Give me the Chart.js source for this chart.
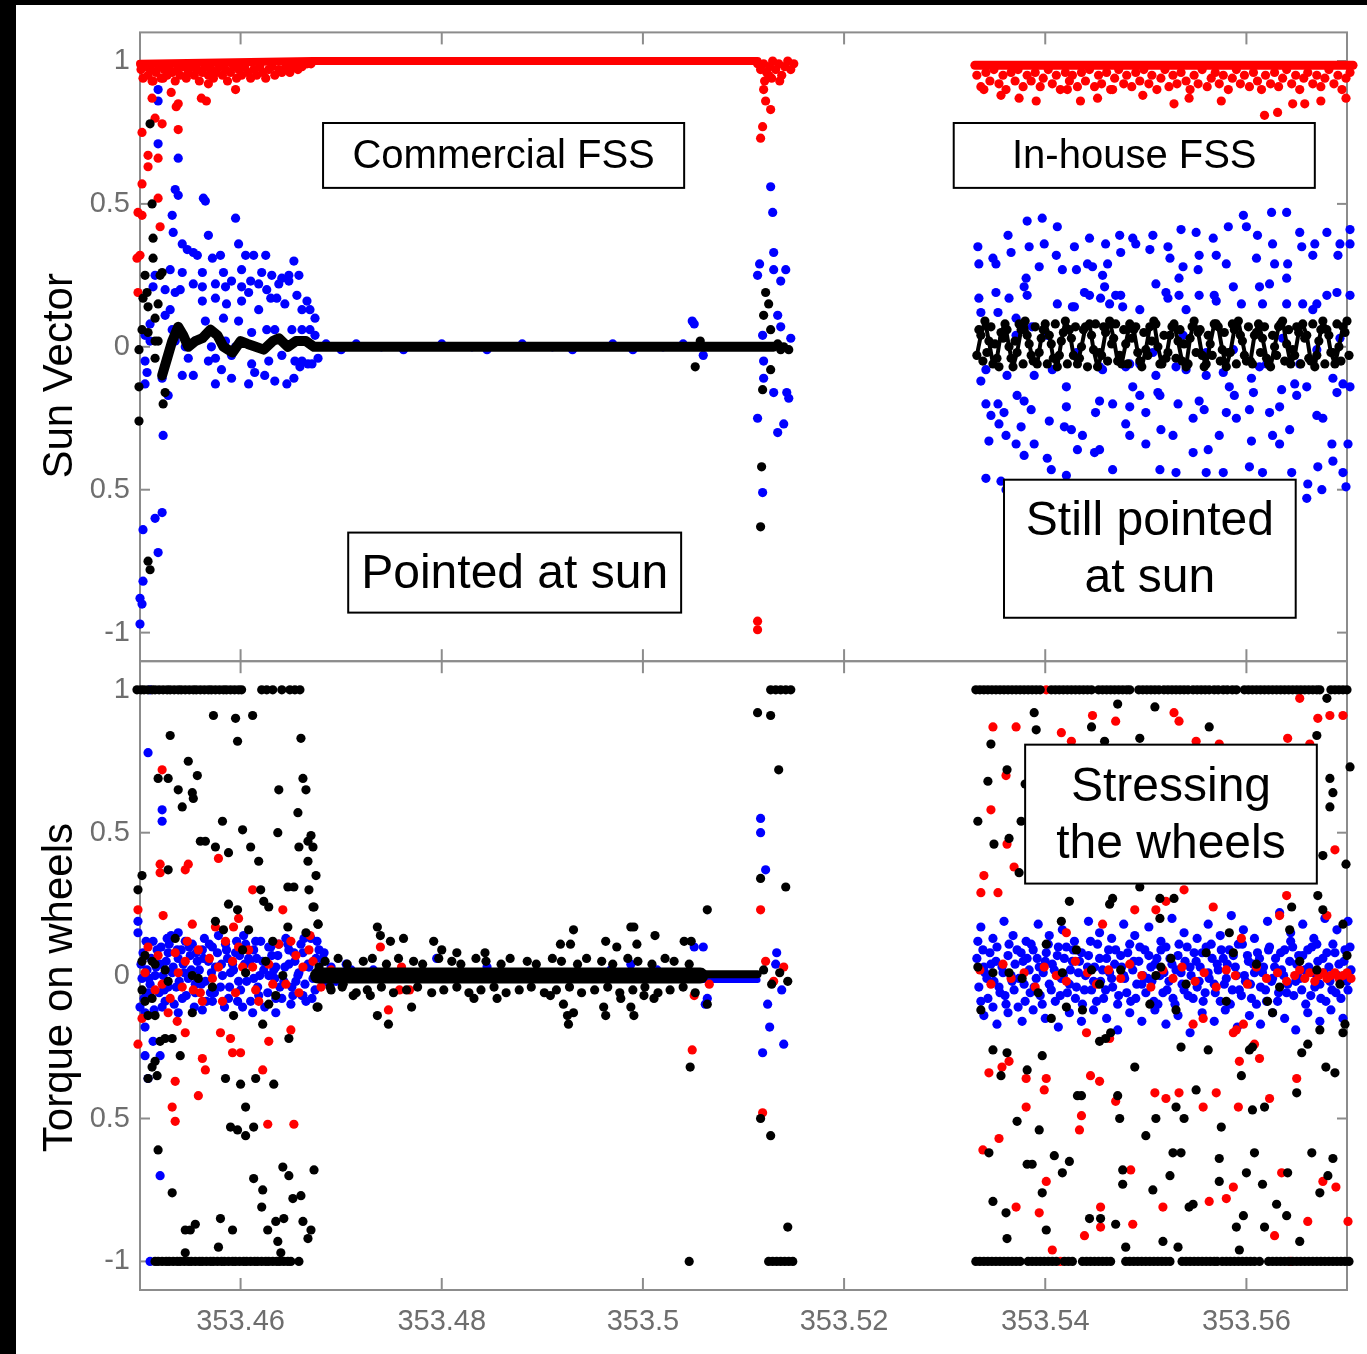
<!DOCTYPE html>
<html>
<head>
<meta charset="utf-8">
<title>Sun vector and wheel torque</title>
<script src="https://cdn.jsdelivr.net/npm/chart.js@4.4.1/dist/chart.umd.min.js"></script>
<style>
  html, body { margin: 0; padding: 0; background: #000; }
  #wrap { position: absolute; left: 16px; top: 5px; width: 1351px; height: 1349px; background: #fff; }
  canvas { display: block; }
</style>
</head>
<body>
<div id="wrap"><canvas id="chart" width="1351" height="1349"></canvas></div>
<script>
// time axis: day of year; points are stored as [t, v] where
// t = offset from T0 in units of 1e-4 day and v = value in hundredths
const T0 = 353.45;
const xTicks = [353.46, 353.48, 353.5, 353.52, 353.54, 353.56];
const xTickLabels = ['353.46', '353.48', '353.5', '353.52', '353.54', '353.56'];
const yTicks = [-1, -0.5, 0, 0.5, 1];
const yTickLabels = ['-1', '0.5', '0', '0.5', '1'];

// ---------- sun vector panel ----------
const sunRed = [
  [1,97],[3,94],[6,98],[8,95],[11,97],[13,93],[16,96],[19,98],[21,94],[24,97],[27,95],[29,98],[32,96],[35,93],[37,97],[40,95],
  [43,98],[46,94],[48,96],[51,98],[54,95],[57,97],[59,93],[62,96],[65,98],[68,95],[71,97],[73,94],[76,96],[79,98],[82,95],[85,97],
  [87,93],[90,96],[93,98],[96,94],[98,97],[101,95],[104,98],[107,96],[110,94],[113,97],[116,95],[119,98],[122,96],[125,94],[128,97],
  [131,98],[134,95],[138,97],[141,96],[145,98],[149,96],[153,98],[157,97],[161,98],[166,99],[170,99],
  [12,93],[23,94],[31,89],[38,85],[36,84],[61,87],[66,86],[68,92],[95,90],[12,87],[2,75],[15,80],[22,78],[38,76],[8,67],[18,66],
  [8,63],[2,57],[18,52],[-2,47],[2,46],[20,42],[0,32],[-3,31],[-2,19],
  [614,99],[617,97],[620,99],[623,96],[626,98],[629,100],[632,97],[635,99],[638,95],[641,98],[644,100],[647,97],[650,99],
  [621,93],[628,94],[636,93],[620,90],[622,86],[625,95],[617,73],[619,77],[627,83],[614,-96],[614,-99],
  [832,95],[836,91],[841,96],[845,93],[849,97],[854,92],[858,95],[861,90],[866,96],[870,93],[873,97],[878,91],[882,95],[886,93],
  [890,96],[895,91],[898,94],[903,97],[907,92],[911,95],[915,90],[920,96],[924,93],[927,95],[932,91],[936,96],[940,93],[944,97],
  [949,91],[953,95],[956,92],[961,96],[965,90],[969,94],[973,97],[978,92],[981,95],[986,91],[990,96],[994,93],[998,97],[1003,92],
  [1006,95],[1011,90],[1015,94],[1019,97],[1023,91],[1027,95],[1031,92],[1035,96],[1040,93],[1044,90],[1048,95],[1052,92],[1056,97],
  [1061,91],[1065,94],[1069,96],[1073,92],[1077,95],[1082,90],[1086,94],[1090,97],[1094,92],[1098,95],[1103,91],[1107,96],[1111,93],
  [1115,90],[1119,95],[1124,92],[1128,96],[1132,91],[1136,94],[1140,97],[1145,92],[1149,95],[1153,90],[1157,94],[1161,96],[1166,92],
  [1170,95],[1174,91],[1178,94],[1182,97],[1187,92],[1191,95],[1195,90],[1199,94],[1203,96],[1206,92],
  [839,90],[856,88],[874,87],[891,86],[922,90],[935,86],[952,87],[967,90],[997,88],[1028,85],[1043,87],[1075,86],[1118,81],
  [1131,82],[1146,85],[1158,85],[1174,86],[1199,87]
];
// saturated red trace (drawn as a thick line through its samples)
const sunRedTrace = [[0,99],[172,100],[614,100]];
const sunRedTraceRight = [[830,98.5],[1206,98.5]];

const sunBlue = [
  [18,90],[18,86],[18,71],[38,66],[35,55],[38,53],[63,52],[65,51],[32,46],[33,40],[68,39],[95,45],[42,36],[47,34],[53,33],[57,32],
  [72,31],[80,32],[98,36],[105,32],[113,32],[125,32],[153,30],[30,27],[42,26],[62,26],[83,26],[101,27],[121,26],[131,25],[141,24],
  [148,25],[158,25],[15,25],[13,21],[25,20],[35,19],[40,20],[53,22],[62,21],[75,22],[85,21],[91,23],[101,21],[110,23],[118,22],
  [126,20],[138,22],[148,23],[156,18],[166,16],[62,16],[75,17],[86,15],[101,16],[108,19],[118,13],[130,17],[136,17],[144,15],
  [161,13],[169,13],[174,10],[30,13],[25,11],[10,8],[65,9],[83,10],[98,9],[111,5],[126,6],[134,6],[151,6],[161,6],[169,6],[174,4],
  [5,4],[10,2],[32,6],[35,2],[45,0],[55,2],[71,0],[85,2],[95,0],[48,-4],[68,-5],[75,-4],[91,-3],[111,-6],[128,-5],[141,-3],[154,-5],
  [161,-5],[171,-6],[177,-4],[5,-5],[7,-9],[5,-13],[42,-10],[53,-10],[75,-13],[81,-8],[91,-11],[108,-13],[114,-9],[124,-10],
  [134,-12],[146,-13],[153,-11],[159,-7],[167,-6],[22,-11],[28,-17],[23,-31],[22,-58],[15,-60],[3,-64],[18,-72],[3,-82],[0,-88],
  [2,-90],[0,-97],
  [185,1],[200,-1],[215,1],[240,0],[262,-1],[300,1],[330,0],[345,-1],[380,1],[410,0],[430,-1],[470,1],[490,-1],[520,0],[540,1],
  [549,9],[551,8],[560,-3],
  [616,29],[630,33],[614,25],[630,27],[642,27],[637,23],[634,11],[637,7],[619,4],[647,3],[620,-5],[620,-11],[630,-16],[643,-16],
  [645,-18],[614,-25],[640,-27],[634,-30],[627,56],[629,47],[619,-51],
  [833,35],[834,29],[848,31],[851,29],[863,39],[866,33],[882,44],[884,35],[897,45],[899,36],[912,42],[911,32],[894,28],[917,27],
  [929,35],[931,27],[944,38],[942,29],[947,28],[960,36],[962,29],[957,25],[974,39],[975,33],[987,38],[990,36],[1004,34],[1007,39],
  [1022,35],[1024,31],[1037,28],[1033,24],[1052,27],[1053,32],[1050,40],[1035,41],[1067,38],[1070,32],[1080,29],[1082,42],[1097,46],
  [1100,42],[1110,31],[1111,39],[1125,47],[1140,47],[1126,36],[1128,29],[1141,29],[1140,24],[1153,40],[1155,35],[1168,36],[1166,32],
  [1180,40],[1191,32],[1193,36],[1203,41],[1203,36],
  [834,17],[836,12],[851,19],[853,12],[864,17],[871,10],[879,21],[881,24],[882,18],[912,15],[927,14],[929,14],[939,19],[944,18],
  [955,17],[959,21],[964,15],[970,18],[975,18],[977,14],[994,13],[1010,22],[1020,19],[1022,17],[1033,18],[1040,13],[1053,18],
  [1068,18],[1070,16],[1087,21],[1095,15],[1113,21],[1123,22],[1116,15],[1140,15],[1156,15],[1166,13],[1170,15],[1180,18],[1190,19],
  [1203,18],
  [871,4],[887,7],[902,4],[931,-2],[954,-7],[980,-7],[1007,-2],[1037,4],[1060,-2],[1087,-1],[1113,-7],[1136,3],[1170,-1],[1193,3],
  [841,-8],[862,-10],[889,-10],[907,-8],[957,-8],[984,-6],[994,-6],[1010,-10],[1030,-7],[1040,-8],[1060,-10],[1077,-9],[1105,-11],
  [1120,-6],[1153,-6],[1186,-11],
  [836,-12],[841,-20],[853,-20],[846,-24],[854,-27],[859,-23],[872,-17],[879,-19],[886,-22],[876,-28],[861,-31],[844,-33],[871,-34],
  [889,-34],[879,-38],[902,-39],[904,-26],[921,-14],[921,-21],[919,-28],[926,-29],[937,-31],[932,-36],[949,-37],[954,-36],[950,-23],
  [954,-19],[967,-20],[984,-21],[980,-27],[984,-31],[987,-14],[994,-17],[1000,-23],[1014,-17],[1012,-16],[1000,-34],[1015,-29],
  [1027,-31],[1032,-20],[1047,-25],[1053,-19],[1058,-22],[1047,-37],[1062,-36],[1073,-31],[1083,-14],[1088,-17],[1080,-23],[1090,-25],
  [1103,-22],[1107,-16],[1105,-33],[1123,-23],[1126,-31],[1133,-34],[1143,-29],[1133,-21],[1135,-15],[1150,-17],[1148,-13],[1160,-14],
  [1170,-24],[1176,-25],[1185,-34],[1190,-16],[1196,-13],[1201,-34],[1203,-14],
  [841,-46],[856,-47],[906,-43],[921,-45],[967,-43],[1014,-43],[1030,-44],[1060,-44],[1077,-44],[1103,-42],[1116,-44],[1145,-44],
  [1171,-42],[1186,-40],[1196,-44],[1199,-49],[1161,-48],[1175,-50],[1160,-53],[921,-49],[874,-48],[861,-50]
];

const sunBlack = [
  [10,78],[12,50],[13,38],[13,31],[5,25],[20,25],[22,26],[7,19],[3,17],[8,14],[18,15],[15,10],[2,6],[8,5],[-1,-1],[15,2],[18,2],
  [15,-4],[-1,-14],[25,-16],[23,-20],[-1,-26],[8,-75],[10,-78],
  [552,-7],[557,2],
  [622,19],[625,15],[620,11],[627,6],[634,1],[640,0],[645,-1],[637,-1],[627,-8],[619,-15],[618,-42],[617,-63]
];
// wavy settling trace after acquisition, then the steady pointing trace
const sunBlackTrace = [
  [22,-10],[27,-4],[32,2],[38,7],[43,4],[48,0],[55,2],[62,3],[70,6],[77,4],[83,0],[92,-2],[100,2],[107,1],[115,0],[123,-1],
  [132,2],[138,3],[147,0],[155,2],[165,2],[173,0],[182,0],[630,0]
];
// in-house sensor: oscillating black component
const sunBlackRight = [
  [832,-3],[836,4],[840,9],[844,2],[848,-6],[852,-4],[856,5],[860,8],[864,0],[868,-7],
  [872,-2],[876,6],[880,9],[884,1],[888,-5],[892,-6],[896,3],[900,8],[904,4],[908,-4],
  [912,-7],[916,2],[920,9],[924,6],[928,-3],[932,-6],[936,0],[940,7],[944,8],[948,-1],
  [952,-7],[956,-3],[960,5],[964,9],[968,3],[972,-5],[976,-6],[980,1],[984,8],[988,6],
  [992,-2],[996,-7],[1000,-1],[1004,7],[1008,9],[1012,0],[1016,-6],[1020,-4],[1024,4],[1028,8],
  [1032,2],[1036,-5],[1040,-7],[1044,3],[1048,9],[1052,5],[1056,-3],[1060,-6],[1064,1],[1068,8],
  [1072,7],[1076,-1],[1080,-7],[1084,-2],[1088,6],[1092,9],[1096,2],[1100,-5],[1104,-5],[1108,4],
  [1112,8],[1116,3],[1120,-4],[1124,-7],[1128,0],[1132,7],[1136,9],[1140,1],[1144,-6],[1148,-3],
  [1152,5],[1156,8],[1160,4],[1164,-5],[1168,-7],[1172,2],[1176,9],[1180,6],[1184,-2],[1188,-6],
  [1192,0],[1196,7],[1200,9],[1204,-1]
];
const sunBlackRight2 = [
  [834,6],[838,-5],[842,-2],[846,7],[850,1],[854,-7],[858,3],[862,6],[866,-4],[870,2],
  [874,8],[878,-6],[882,4],[886,-3],[890,7],[894,-2],[898,6],[902,-6],[906,1],[910,8],
  [914,-3],[918,5],[922,-6],[926,3],[930,7],[934,-4],[938,6],[942,-7],[946,4],[950,8],
  [954,-2],[958,7],[962,-5],[966,1],[970,8],[974,-3],[978,6],[982,-6],[986,3],[990,7],
  [994,-5],[998,5],[1002,-3],[1006,2],[1010,8],[1014,-6],[1018,4],[1022,-2],[1026,7],[1030,-4],
  [1034,6],[1038,1],[1042,-6],[1046,7],[1050,-2],[1054,6],[1058,-7],[1062,4],[1066,-3],[1070,8],
  [1074,-5],[1078,5],[1082,-2],[1086,8],[1090,-6],[1094,4],[1098,-3],[1102,7],[1106,-6],[1110,5],
  [1114,-2],[1118,7],[1122,-6],[1126,4],[1130,-3],[1134,8],[1138,-5],[1142,6],[1146,-1],[1150,7],
  [1154,-6],[1158,3],[1162,-4],[1166,8],[1170,-3],[1174,6],[1178,-6],[1182,4],[1186,-2],[1190,8],
  [1194,-5],[1198,5],[1202,-3],[1206,6]
];

// ---------- wheel torque panel ----------
const trqHighT = [
  -3,1,4,8,12,15,19,23,27,30,34,38,41,45,49,53,56,60,64,68,71,75,79,83,86,90,94,98,101,121,126,132,141,149,154,159,
  627,632,637,642,647,
  831,835,839,843,847,851,855,859,863,867,871,875,879,883,887,891,895,906,910,914,918,922,926,930,934,938,942,946,
  953,957,961,965,969,973,977,981,984,993,997,1001,1005,1009,1013,1018,1022,1026,1030,1034,1038,1042,1047,1051,1055,
  1059,1063,1068,1072,1077,1081,1086,1090,1098,1102,1106,1110,1114,1118,1122,1126,1130,1134,1138,1142,1146,1150,1154,
  1158,1162,1166,1170,1173,1184,1188,1192,1196,1200,1204
];
const trqLowT = [
  15,18,22,26,29,33,37,40,44,48,51,55,59,62,66,70,73,77,81,84,88,92,95,99,103,106,110,114,117,121,125,128,132,136,139,
  143,147,150,158,
  546,625,629,633,637,641,645,649,
  831,835,839,843,847,851,855,859,863,867,871,875,883,887,891,895,899,903,907,911,919,923,927,937,941,945,949,953,957,961,965,
  980,984,988,992,996,1000,1004,1008,1012,1016,1020,1024,1036,1040,1044,1048,1052,1056,1060,1064,1068,1071,1076,1080,1084,1088,
  1092,1096,1100,1104,1108,1113,1122,1126,1130,1134,1138,1142,1146,1150,1154,1158,1162,1166,1170,1174,1178,1182,1186,1190,
  1194,1198,1202,1205
];

const trqBlack = [
  [73,91],[95,90],[112,91],[30,84],[97,82],[160,83],[48,75],[18,69],[28,69],[57,70],[38,65],[52,64],[53,62],[42,59],[138,65],
  [162,69],[165,65],[157,57],[82,54],[102,51],[137,50],[170,49],[167,47],[172,45],[60,47],[65,47],[75,45],[88,43],[110,45],
  [158,45],[167,40],[118,40],[2,35],[175,35],[28,37],[-2,30],[120,30],[147,31],[153,31],[168,30],[88,25],[97,23],[123,26],
  [128,24],[173,24],[75,19],[83,16],[177,18],[147,17],[165,15],[108,16],[35,13],[132,12],[5,7],[15,4],[102,9],[28,-2],[58,-1],
  [72,-4],[52,-13],[93,-14],[122,-17],[128,-10],[148,-22],[177,-11],[5,-9],[8,-14],[15,-14],[20,-23],[25,-22],[32,-22],[15,-30],
  [12,-32],[8,-36],[17,-35],[40,-28],[85,-36],[100,-38],[115,-36],[133,-38],[105,-46],[90,-53],[97,-54],[105,-56],[113,-53],
  [18,-61],[32,-76],[113,-71],[122,-75],[142,-67],[148,-70],[152,-78],[160,-77],[173,-68],[121,-81],[45,-89],[50,-89],[55,-87],
  [80,-85],[92,-89],[127,-89],[135,-86],[143,-85],[162,-86],[170,-89],[167,-92],[137,-93],[78,-95],[45,-97],[140,-97],
  [2,5],[12,5],[25,2],[2,-5],[12,-8],[52,0],[105,1],[125,5],[142,0],[135,-7],[178,3],[182,0],
  [172,24],[177,18],[176,-11],[236,17],[239,14],[249,12],[262,13],[292,12],[300,9],[315,8],[343,8],[431,16],[418,11],[428,11],
  [463,12],[488,17],[491,17],[512,14],[474,10],[494,11],[541,12],[548,12],[564,23],[229,-7],[236,-14],[247,-17],[270,-11],
  [212,-7],[332,-8],[355,-8],[408,-7],[421,-10],[425,-14],[431,-13],[426,-17],[461,-11],[463,-14],[478,-8],[488,-11],[491,-14],
  [501,-7],[511,-8],[547,-32],[564,-10],[189,-4],[202,-3],
  [184,5],[197,6],[206,4],[222,5],[231,6],[245,4],[257,6],[272,5],[281,4],[297,6],[310,5],[319,4],[334,6],[344,5],[359,4],
  [368,6],[385,5],[394,4],[410,6],[419,5],[435,4],[444,6],[459,5],[470,4],[485,6],[495,5],[509,4],[522,6],[531,5],[546,4],
  [190,-5],[201,-4],[215,-6],[226,-5],[240,-4],[252,-6],[265,-5],[276,-4],[290,-6],[302,-5],[315,-4],[327,-6],[339,-5],
  [352,-4],[364,-6],[377,-5],[389,-4],[402,-6],[414,-5],[427,-4],[439,-6],[452,-5],[465,-4],[477,-6],[490,-5],[502,-4],
  [515,-6],[527,-5],[540,-4],[552,-6],
  [614,92],[627,91],[635,72],[617,34],[642,31],[617,-50],[627,-56],[644,-88],[620,2],[628,-3],[636,1],[644,-2],
  [889,92],[972,95],[1009,94],[891,86],[946,87],[846,81],[959,82],[994,83],[1063,87],[1170,84],[1180,97],[862,72],[843,68],
  [880,67],[1183,69],[1186,64],[1183,59],[1203,73],[833,54],[849,46],[864,48],[874,36],[876,54],[1176,42],[1199,39],[994,31],
  [924,26],[964,25],[967,27],[1014,20],[1028,27],[1014,27],[1171,28],[1176,23],[1145,24],[916,19],[1143,16],[1196,18],[901,11],
  [931,9],[975,2],[1010,0],[1083,15],[1087,8],[1153,5],[833,3],[848,1],[864,1],[877,-1],[917,1],[946,2],[954,-3],[1133,-4],
  [836,-12],[921,-11],[937,-12],[1004,-10],[1030,-12],[1080,-9],[1121,-9],[1126,-13],[1193,-3],[906,-15],[1198,-17],[1196,-20],
  [954,-23],[960,-22],[965,-20],[1173,-19],[1106,-25],[1103,-26],[1161,-24],[1155,-27],[1035,-25],[1062,-26],[848,-26],[862,-27],
  [897,-28],[882,-33],[856,-35],[989,-32],[1095,-35],[1179,-32],[1188,-34],[1150,-41],[932,-42],[936,-42],[972,-42],[1030,-46],
  [1050,-40],[1106,-47],[1118,-46],[872,-51],[894,-54],[974,-50],[1010,-50],[1038,-50],[1075,-53],[1000,-56],[1027,-62],[1035,-62],
  [1073,-64],[1108,-62],[1165,-62],[1186,-64],[844,-62],[882,-66],[887,-66],[909,-63],[924,-65],[917,-69],[977,-68],[1024,-70],
  [1100,-69],[1116,-73],[1141,-69],[1173,-76],[1181,-70],[897,-76],[977,-73],[1007,-75],[1073,-72],[848,-79],[861,-83],[944,-85],
  [955,-85],[970,-87],[1047,-80],[1043,-81],[1090,-88],[1097,-84],[1118,-88],[1130,-80],[1140,-84],[862,-92],[901,-89],[1017,-93],
  [980,-95],[1032,-95],[1093,-96],[1153,-93],
  [1025,6],[1040,-3],[1060,8],[1110,4],[1170,2],[1200,7],[893,-6],[1015,3]
];
// dense reaction-wheel trace while the commercial sensor is tracking
const trqBlackTrace = [[177,0],[557,0]];
const trqBlackTraceEnd = [[557,0.5],[614,0.5]];

const trqRed = [
  [22,72],[20,39],[20,36],[48,39],[45,37],[78,41],[112,30],[142,23],[23,21],[52,18],[75,17],[93,17],[98,20],[-2,23],[2,-15],
  [-2,-24],[28,-13],[37,-16],[45,-20],[80,-20],[90,-22],[92,-27],[100,-27],[128,-23],[150,-19],[62,-29],[65,-33],[35,-37],
  [58,-42],[32,-46],[35,-51],[122,-33],[127,-52],[153,-52],
  [8,10],[35,8],[45,5],[58,9],[38,1],[53,-5],[72,-1],[85,12],[92,5],[102,3],[108,9],[115,-5],[128,4],[138,11],[145,-3],[155,7],
  [162,3],[168,9],[15,-5],[22,-3],[42,-4],[95,-6],[78,3],[62,-9],
  [5,1],[18,7],[30,-8],[47,12],[60,-6],[69,6],[82,-9],[98,10],[112,3],[118,-9],[132,-3],[150,12],[158,-6],[172,5],[180,-4],
  [169,14],[258,-5],[268,-5],[247,-12],[239,10],[549,-26],[551,-7],[566,-3],[190,2],[260,3],[252,1],
  [617,23],[619,-48],[622,5],[630,-2],[640,3],
  [848,87],[871,87],[861,70],[947,91],[970,89],[1028,92],[1033,89],[1153,97],[1171,90],[1183,91],[1196,91],[916,85],[926,82],
  [1050,82],[1073,81],[1141,83],[1163,81],[846,58],[862,46],[869,38],[839,35],[836,29],[853,29],[1188,44],[1038,30],[1067,24],
  [989,23],[1010,23],[1020,26],[1140,28],[1180,21],[957,18],[921,15],[1095,13],[1133,21],[941,-20],[964,-22],[1047,-17],
  [1057,-15],[1087,-20],[1090,-19],[1097,-17],[1108,-24],[864,-30],[857,-32],[844,-34],[881,-36],[901,-36],[945,-35],[954,-37],
  [1093,-30],[1113,-29],[1150,-36],[1009,-41],[1020,-43],[1033,-41],[1057,-46],[1070,-41],[1092,-46],[1123,-43],[881,-46],
  [899,-40],[936,-49],[934,-54],[970,-44],[838,-61],[854,-57],[901,-72],[985,-68],[1087,-74],[1080,-78],[1135,-69],[1176,-72],
  [1189,-74],[871,-81],[894,-83],[955,-81],[1017,-81],[1063,-79],[1161,-86],[1201,-86],[955,-88],[987,-87],[939,-91],[1128,-91],
  [907,-96],[901,100],[915,-100],[1144,-100],
  [835,2],[846,-3],[858,4],[866,-1],[879,1],[890,-4],[899,3],[911,0],[921,-2],[930,5],[942,1],[951,-3],[963,2],[975,-1],[984,4],
  [996,0],[1005,-4],[1017,2],[1027,-1],[1036,3],[1049,-2],[1058,1],[1070,-4],[1080,2],[1089,0],[1101,-3],[1110,3],[1120,-1],
  [1131,1],[1140,-2],[1148,0],[1153,2],[1158,-1],[1163,1],[1168,-2],[1172,0],[1176,1],[1180,-1],[1184,0],[1188,1],[1192,-1],
  [1196,0],[1200,1],[1204,-1]
];

const trqBlue = [
  [8,78],[22,58],[22,54],[-2,19],[-2,15],[5,-18],[13,-23],[20,-28],[5,-28],[8,-36],[20,-70],[10,-100],[10,100],
  [13,12],[27,13],[38,15],[45,12],[52,11],[62,9],[72,10],[85,11],[95,8],[105,11],[115,12],[128,10],[138,11],[148,9],[162,8],
  [175,6],[182,5],[28,8],[38,6],[57,5],[75,3],[92,4],[108,6],[122,5],[135,3],[148,4],[158,1],[168,3],[15,0],[32,1],[48,-1],
  [65,-2],[82,0],[98,-2],[113,-1],[128,0],[143,-2],[155,-2],[172,-1],[2,-1],[8,-6],[25,-9],[42,-8],[55,-6],[72,-9],[88,-8],
  [102,-11],[118,-7],[135,-8],[152,-7],[165,-9],[22,-11],[38,-13],[62,-12],[112,-13],[135,-13],[162,-7],[0,-11],[5,-13],
  [3,8],[7,2],[10,-3],[17,9],[20,4],[24,-5],[29,11],[33,3],[36,-4],[41,9],[44,1],[50,7],[55,-3],[59,2],[64,13],[68,5],[70,-6],
  [77,8],[80,-4],[87,6],[90,1],[96,12],[100,-5],[104,4],[110,-9],[116,6],[119,0],[124,-11],[131,7],[133,2],[139,-4],[145,13],
  [150,-10],[154,5],[160,11],[164,-3],[170,13],[174,-5],[178,9],[184,-2],
  [1,4],[4,-8],[6,12],[9,-1],[11,6],[14,-12],[16,3],[19,-6],[21,10],[23,0],[26,5],[28,-4],[31,14],[34,-10],[37,9],[39,-2],
  [43,4],[46,-7],[49,10],[51,2],[54,-11],[56,8],[61,-3],[63,6],[66,-9],[69,11],[71,1],[74,-6],[78,14],[81,4],[84,-11],[86,9],
  [89,-4],[93,2],[97,-9],[99,7],[103,14],[106,-2],[109,5],[113,9],[117,-4],[120,12],[123,2],[127,-6],[130,10],[134,-1],[137,7],
  [141,-8],[144,3],[147,11],[151,-4],[153,8],[157,0],[161,-7],[163,13],[167,4],[171,-8],[176,12],[179,0],[183,8],
  [182,6],[232,2],[245,-1],[255,0],[295,6],[345,3],[368,0],[421,1],[435,-1],[451,0],[468,2],[488,4],[498,0],[514,2],[551,10],
  [560,10],[562,-10],[564,-8],[185,0],[190,3],[195,-2],[200,1],[205,4],[210,2],
  [617,55],[617,50],[622,37],[624,-10],[632,4],[638,-5],[626,-18],[640,-24],[619,-27],[633,8],
  [836,17],[848,13],[859,19],[868,14],[881,12],[893,18],[904,14],[917,16],[929,12],[943,19],[954,15],[966,13],[978,18],[989,14],
  [1003,17],[1015,12],[1026,20],[1038,15],[1051,13],[1062,18],[1074,14],[1085,21],[1097,16],[1108,13],[1121,19],[1133,22],
  [1144,15],[1156,18],[1167,13],[1178,20],[1190,16],[1201,19],[1206,14],
  [832,6],[834,-4],[838,9],[840,1],[843,-8],[846,4],[849,-2],[852,10],[855,-6],[857,3],[861,-10],[863,7],[866,0],[869,-5],
  [872,9],[874,-1],[878,5],[880,-9],[884,2],[886,11],[889,-4],[892,6],[895,-7],[898,1],[901,8],[904,-3],[907,4],[910,-9],
  [913,10],[916,-1],[919,6],[922,-6],[925,2],[928,9],[931,-4],[934,5],[937,-10],[940,0],[943,7],[946,-5],[949,3],[952,11],
  [955,-2],[958,-8],[961,6],[964,1],[967,-4],[970,9],[973,-7],[976,3],[979,-1],[982,8],[985,-9],[988,5],[991,-3],[994,10],
  [997,0],[1000,-6],[1003,7],[1006,-2],[1009,4],[1012,-10],[1015,9],[1018,1],[1021,-5],[1024,6],[1027,-8],[1030,2],[1033,11],
  [1036,-3],[1039,5],[1042,-7],[1045,0],[1048,8],[1051,-4],[1054,3],[1057,-9],[1060,10],[1063,-1],[1066,6],[1069,-6],[1072,2],
  [1075,9],[1078,-3],[1081,4],[1084,-10],[1087,7],[1090,0],[1093,-5],[1096,11],[1099,-2],[1102,5],[1105,-8],[1108,1],[1111,8],
  [1114,-4],[1117,3],[1120,-9],[1123,10],[1126,-1],[1129,6],[1132,-6],[1135,2],[1138,9],[1141,-3],[1144,12],[1147,-7],[1150,4],
  [1153,-1],[1156,7],[1159,-10],[1162,3],[1165,10],[1168,-4],[1171,5],[1174,-8],[1177,1],[1180,8],[1183,-2],[1186,11],[1189,-6],
  [1192,4],[1195,-1],[1198,9],[1201,-5],[1204,2],[1206,7],
  [833,12],[836,-9],[839,3],[842,-1],[845,8],[848,-11],[851,5],[854,-4],[858,1],[860,-7],[864,11],[867,-2],[870,4],[873,-11],
  [876,8],[879,-3],[882,6],[885,-6],[888,9],[891,-1],[894,3],[897,-10],[900,5],[903,11],[906,-5],[909,2],[912,7],[915,-7],
  [918,0],[921,10],[924,-3],[927,5],[930,-8],[933,1],[936,8],[939,-5],[942,3],[945,12],[948,-2],[951,-9],[954,6],[957,2],
  [960,-5],[963,9],[966,-1],[969,4],[972,-10],[975,7],[978,0],[981,-6],[984,11],[987,2],[990,-8],[993,5],[996,-3],[999,9],
  [1002,-1],[1005,3],[1008,-9],[1011,6],[1014,0],[1017,-6],[1020,10],[1023,-2],[1026,4],[1029,-10],[1032,7],[1035,1],[1038,-5],
  [1041,10],[1044,3],[1047,-8],[1050,5],[1053,-2],[1056,8],[1059,-6],[1062,1],[1065,11],[1068,-3],[1071,4],[1074,-9],[1077,6],
  [1080,-1],[1083,9],[1086,-5],[1089,3],[1092,11],[1095,-7],[1098,0],[1101,7],[1104,-3],[1107,4],[1110,-10],[1113,6],[1116,1],
  [1119,-5],[1122,9],[1125,-2],[1128,3],[1131,-9],[1134,8],[1137,0],[1140,-6],[1143,5],[1146,10],[1149,-2],[1152,7],[1155,-5],
  [1158,2],[1161,9],[1164,-7],[1167,1],[1170,11],[1173,-3],[1176,6],[1179,-9],[1182,3],[1185,-5],[1188,8],[1191,0],[1194,-8],
  [1197,5],[1200,-2],[1203,10],[1205,-7],
  [839,-14],[852,-17],[863,-13],[877,-16],[888,-12],[900,-15],[913,-18],[924,-13],[936,-16],[948,-12],[961,-15],[972,-19],
  [984,-13],[996,-16],[1009,-12],[1020,-17],[1032,-14],[1044,-20],[1056,-13],[1068,-16],[1079,-12],[1091,-18],[1103,-14],
  [1114,-17],[1126,-13],[1138,-15],[1149,-19],[1161,-13],[1173,-16],[1184,-12],[1196,-15],[1205,-13]
];
const trqBlueTraceEnd = [[557,-1.5],[614,-1.5]];

// ---------- helpers ----------
const toPts = arr => arr.map(([t, v]) => ({ x: T0 + t / 1e4, y: v / 100 }));
const rowPts = (ts, v) => ts.map(t => ({ x: T0 + t / 1e4, y: v }));

const RED = '#ff0000', BLUE = '#0000ff', BLACK = '#000000';
const DOT = 4.6;

function dots(points, color, yAxisID) {
  return { data: points, yAxisID, backgroundColor: color, borderColor: color,
           pointRadius: DOT, pointBorderWidth: 0, pointHoverRadius: DOT, showLine: false, clip: false };
}
function trace(points, color, width, yAxisID) {
  return { data: points, yAxisID, borderColor: color, backgroundColor: color, borderWidth: width,
           pointRadius: 0, pointHoverRadius: 0, showLine: true, tension: 0, clip: false,
           borderCapStyle: 'round', borderJoinStyle: 'round' };
}

const notes = [
  { axis: 'ySun', t: [182, 541], v: [0.783, 0.556], lines: ['Commercial FSS'], size: 40 },
  { axis: 'ySun', t: [809, 1168], v: [0.783, 0.556], lines: ['In-house FSS'], size: 40 },
  { axis: 'ySun', t: [207, 538], v: [-0.650, -0.930], lines: ['Pointed at sun'], size: 48 },
  { axis: 'ySun', t: [859, 1149], v: [-0.465, -0.948], lines: ['Still pointed', 'at sun'], size: 48 },
  { axis: 'yTrq', t: [880, 1170], v: [0.808, 0.322], lines: ['Stressing', 'the wheels'], size: 48 }
];
const axisTitles = [
  { axis: 'ySun', text: 'Sun Vector', shift: 29 },
  { axis: 'yTrq', text: 'Torque on wheels', shift: 12 }
];
const FONT = "'Liberation Sans', Arial, Helvetica, sans-serif";

// panel frames with inward ticks, drawn beneath the data
const framePlugin = {
  id: 'frame',
  beforeDatasetsDraw(chart) {
    const { ctx, chartArea: a, scales } = chart;
    const seg = (x1, y1, x2, y2) => { ctx.beginPath(); ctx.moveTo(x1, y1); ctx.lineTo(x2, y2); ctx.stroke(); };
    ctx.save();
    ctx.strokeStyle = '#8c8c8c';
    ctx.lineWidth = 2;
    [scales.ySun, scales.yTrq].forEach(ys => {
      ctx.strokeRect(a.left, ys.top, a.right - a.left, ys.bottom - ys.top);
      yTicks.forEach(v => {
        const py = ys.getPixelForValue(v);
        seg(a.left, py, a.left + 10, py);
        seg(a.right, py, a.right - 10, py);
      });
      xTicks.forEach(v => {
        const px = scales.x.getPixelForValue(v);
        seg(px, ys.top, px, ys.top + 12);
        seg(px, ys.bottom, px, ys.bottom - 12);
      });
    });
    ctx.restore();
  }
};

// boxed notes and rotated panel titles
const notePlugin = {
  id: 'notes',
  afterDraw(chart) {
    const { ctx, scales } = chart;
    const x = scales.x;
    ctx.save();
    notes.forEach(n => {
      const ys = scales[n.axis];
      const x1 = x.getPixelForValue(T0 + n.t[0] / 1e4), x2 = x.getPixelForValue(T0 + n.t[1] / 1e4);
      const y1 = ys.getPixelForValue(n.v[0]), y2 = ys.getPixelForValue(n.v[1]);
      ctx.fillStyle = '#fff';
      ctx.fillRect(x1, y1, x2 - x1, y2 - y1);
      ctx.strokeStyle = '#000';
      ctx.lineWidth = 2;
      ctx.strokeRect(x1, y1, x2 - x1, y2 - y1);
      ctx.fillStyle = '#000';
      ctx.font = n.size + 'px ' + FONT;
      ctx.textAlign = 'center';
      ctx.textBaseline = 'alphabetic';
      const cx = (x1 + x2) / 2, cy = (y1 + y2) / 2;
      const gap = 57, cap = 0.716 * n.size;
      n.lines.forEach((line, i) => {
        const off = (i - (n.lines.length - 1) / 2) * gap;
        ctx.fillText(line, cx, cy + off + cap / 2 - 2);
      });
    });
    axisTitles.forEach(tt => {
      const ys = scales[tt.axis];
      ctx.save();
      ctx.translate(56, (ys.top + ys.bottom) / 2 + tt.shift);
      ctx.rotate(-Math.PI / 2);
      ctx.font = '42px ' + FONT;
      ctx.fillStyle = '#000';
      ctx.textAlign = 'center';
      ctx.textBaseline = 'alphabetic';
      ctx.fillText(tt.text, 0, 0);
      ctx.restore();
    });
    ctx.restore();
  }
};

const yScale = (weight) => ({
  type: 'linear', position: 'left', stack: 'panels', stackWeight: 1, weight,
  min: -1.1, max: 1.1,
  afterBuildTicks: s => { s.ticks = yTicks.map(v => ({ value: v })); },
  afterFit: s => { s.width = 124; },
  grid: { display: false, drawTicks: false },
  border: { display: false },
  ticks: { color: '#6e6e6e', padding: 10, font: { family: FONT, size: 29 },
           callback: v => yTickLabels[yTicks.indexOf(v)] }
});

new Chart(document.getElementById('chart'), {
  type: 'scatter',
  data: {
    datasets: [
      trace(toPts(sunBlackRight), BLACK, 4, 'ySun'),
      dots(toPts(sunBlackRight), BLACK, 'ySun'),
      dots(toPts(sunBlackRight2), BLACK, 'ySun'),
      dots(toPts(sunBlack), BLACK, 'ySun'),
      trace(toPts(sunBlackTrace), BLACK, 10, 'ySun'),
      dots(toPts(trqBlack), BLACK, 'yTrq'),
      dots(rowPts(trqHighT, 1), BLACK, 'yTrq'),
      dots(rowPts(trqLowT, -1), BLACK, 'yTrq'),
      trace(toPts(trqBlackTrace), BLACK, 16, 'yTrq'),
      trace(toPts(trqBlackTraceEnd), BLACK, 8, 'yTrq'),
      dots(toPts(sunRed), RED, 'ySun'),
      trace(toPts(sunRedTrace), RED, 8, 'ySun'),
      trace(toPts(sunRedTraceRight), RED, 9, 'ySun'),
      dots(toPts(trqRed), RED, 'yTrq'),
      dots(toPts(sunBlue), BLUE, 'ySun'),
      dots(toPts(trqBlue), BLUE, 'yTrq'),
      trace(toPts(trqBlueTraceEnd), BLUE, 6, 'yTrq')
    ]
  },
  options: {
    responsive: false,
    animation: false,
    devicePixelRatio: 1,
    events: [],
    layout: { padding: { top: 25, right: 20, bottom: 0, left: 0 } },
    plugins: { legend: { display: false }, tooltip: { enabled: false }, title: { display: false } },
    scales: {
      x: {
        type: 'linear', position: 'bottom', min: 353.45, max: 353.57,
        afterBuildTicks: s => { s.ticks = xTicks.map(v => ({ value: v })); },
        afterFit: s => { s.height = 64; },
        grid: { display: false, drawTicks: false },
        border: { display: false },
        ticks: { color: '#6e6e6e', padding: 15, maxRotation: 0, autoSkip: false,
                 font: { family: FONT, size: 29 },
                 callback: v => xTickLabels[xTicks.indexOf(v)] }
      },
      ySun: yScale(1),
      yTrq: yScale(0)
    }
  },
  plugins: [framePlugin, notePlugin]
});
</script>
</body>
</html>
